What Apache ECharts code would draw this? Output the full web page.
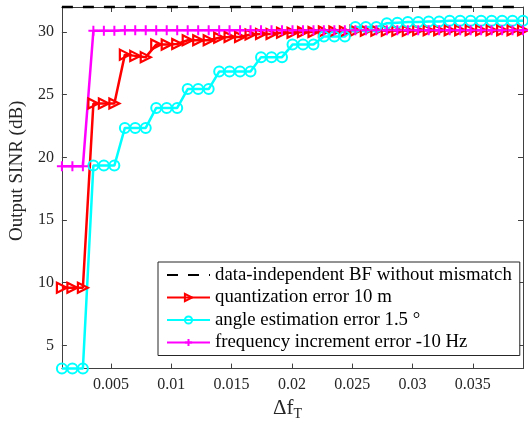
<!DOCTYPE html>
<html>
<head>
<meta charset="utf-8">
<script src="https://cdn.jsdelivr.net/npm/echarts@6/dist/echarts.min.js"></script>
<style>html,body{margin:0;padding:0;background:#fff;}#c{width:528px;height:426px;}</style>
</head>
<body>
<div id="c"></div>
<script>
// Δf_T sample points
const xValues = [0.00093, 0.00180, 0.00267, 0.00354, 0.00441, 0.00528, 0.00615, 0.00701, 0.00788, 0.00875,
  0.00962, 0.01049, 0.01136, 0.01223, 0.01310, 0.01397, 0.01483, 0.01570, 0.01657, 0.01744,
  0.01831, 0.01918, 0.02005, 0.02092, 0.02179, 0.02265, 0.02352, 0.02439, 0.02526, 0.02613,
  0.02700, 0.02787, 0.02874, 0.02961, 0.03047, 0.03134, 0.03221, 0.03308, 0.03395, 0.03482,
  0.03569, 0.03656, 0.03743, 0.03829, 0.03916];
const refSINR = [32, 32, 32, 32, 32, 32, 32, 32, 32, 32, 32, 32, 32, 32, 32, 32, 32, 32, 32, 32,
  32, 32, 32, 32, 32, 32, 32, 32, 32, 32, 32, 32, 32, 32, 32, 32, 32, 32, 32, 32, 32, 32, 32, 32, 32];
const quantSINR = [9.6, 9.6, 9.6, 24.3, 24.3, 24.3, 28.2, 28.1, 28.0, 29.0,
  29.0, 29.05, 29.35, 29.35, 29.35, 29.55, 29.6, 29.6, 29.8, 29.85,
  29.85, 29.95, 29.95, 30.0, 30.0, 30.05, 30.05, 30.05, 30.1, 30.1,
  30.1, 30.1, 30.1, 30.1, 30.15, 30.15, 30.15, 30.15, 30.15, 30.15,
  30.15, 30.15, 30.15, 30.15, 30.15];
const angleSINR = [3.15, 3.15, 3.15, 19.35, 19.35, 19.35, 22.35, 22.35, 22.35, 23.95,
  23.95, 23.95, 25.45, 25.45, 25.45, 26.85, 26.85, 26.85, 26.85, 28.0,
  28.0, 28.0, 29.0, 29.0, 29.0, 29.65, 29.65, 29.65, 30.4, 30.4,
  30.4, 30.7, 30.75, 30.8, 30.8, 30.85, 30.85, 30.9, 30.9, 30.9,
  30.9, 30.9, 30.9, 30.9, 30.9];
const freqSINR = [19.3, 19.3, 19.3, 30.1, 30.1, 30.1, 30.15, 30.15, 30.15, 30.15,
  30.15, 30.15, 30.15, 30.15, 30.15, 30.15, 30.15, 30.15, 30.15, 30.15,
  30.15, 30.15, 30.15, 30.15, 30.15, 30.15, 30.15, 30.15, 30.15, 30.15,
  30.15, 30.15, 30.15, 30.15, 30.15, 30.15, 30.15, 30.15, 30.15, 30.15,
  30.15, 30.15, 30.15, 30.15, 30.15];
const seriesNames = ['data-independent BF without mismatch', 'quantization error 10 m',
  'angle estimation error 1.5 °', 'frequency increment error -10 Hz'];
const xTicks = [0.005, 0.01, 0.015, 0.02, 0.025, 0.03, 0.035];
const yTicks = [5, 10, 15, 20, 25, 30];
const yMin = 3.15, yMax = 32;

const FONT = 'Liberation Serif';
const AX = '#404040';
const pairs = arr => xValues.map((x, i) => [x, arr[i]]);
const xMin = xValues[0], xMax = xValues[xValues.length - 1];

const chart = echarts.init(document.getElementById('c'), null, {renderer: 'canvas'});
const baseX = {
  type: 'value', min: xMin, max: xMax,
  axisLine: {show: true, onZero: false, lineStyle: {color: AX, width: 1}},
  axisTick: {show: true, inside: true, length: 5, lineStyle: {color: AX}, customValues: xTicks},
  splitLine: {show: false}
};
const baseY = {
  type: 'value', min: yMin, max: yMax,
  axisLine: {show: true, onZero: false, lineStyle: {color: AX, width: 1}},
  axisTick: {show: true, inside: true, length: 5, lineStyle: {color: AX}, customValues: yTicks},
  splitLine: {show: false}
};
chart.setOption({
  backgroundColor: '#fff',
  animation: false,
  grid: {left: 55, right: 5, top: 7, bottom: 57, containLabel: false},
  xAxis: [
    Object.assign({}, baseX, {
      position: 'bottom',
      axisLabel: {show: true, customValues: xTicks, margin: 8, fontFamily: FONT, fontSize: 16, color: '#262626',
        formatter: v => String(+(+v).toFixed(3))},
      name: '{a|Δf}{b|T}', nameLocation: 'middle', nameGap: 26,
      nameTextStyle: {color: '#262626', padding: [0, 10, 0, 0], rich: {
        a: {fontFamily: FONT, fontSize: 21, color: '#262626'},
        b: {fontFamily: FONT, fontSize: 14, color: '#262626', padding: [12, 0, 0, 0]}
      }}
    }),
    Object.assign({}, baseX, {position: 'top', axisLabel: {show: false}})
  ],
  yAxis: [
    Object.assign({}, baseY, {
      position: 'left',
      axisLabel: {show: true, customValues: yTicks, margin: 8, fontFamily: FONT, fontSize: 16, color: '#262626'},
      name: 'Output SINR (dB)', nameLocation: 'middle', nameGap: 30,
      nameTextStyle: {fontFamily: FONT, fontSize: 19, color: '#262626', padding: [0, 0, 0, 34]}
    }),
    Object.assign({}, baseY, {position: 'right', axisLabel: {show: false}})
  ],
  legend: {
    orient: 'vertical', left: 158, top: 262,
    padding: [2, 8, 2, 8],
    itemGap: 0.5,
    itemWidth: 43, itemHeight: 9,
    borderColor: '#262626', borderWidth: 1, backgroundColor: '#fff',
    textStyle: {fontFamily: FONT, fontSize: 18.8, color: '#000', lineHeight: 22},
    data: [
      {name: seriesNames[0], itemStyle: {opacity: 0}},
      seriesNames[1], seriesNames[2], seriesNames[3]
    ]
  },
  series: [
    {name: seriesNames[0], type: 'line', data: pairs(refSINR), symbol: 'none', clip: false,
      lineStyle: {color: '#000', width: 2.5, type: [11, 10]}, itemStyle: {color: '#000'}},
    {name: seriesNames[1], type: 'line', data: pairs(quantSINR), clip: false,
      symbol: 'path://M0,0L10,5L0,10Z', symbolSize: 10,
      lineStyle: {color: '#ff0000', width: 2.5},
      itemStyle: {color: 'rgba(255,255,255,0)', borderColor: '#ff0000', borderWidth: 2.2}},
    {name: seriesNames[2], type: 'line', data: pairs(angleSINR), clip: false,
      symbol: 'circle', symbolSize: 10,
      lineStyle: {color: '#00ffff', width: 2.5},
      itemStyle: {color: 'rgba(255,255,255,0)', borderColor: '#00ffff', borderWidth: 2}},
    {name: seriesNames[3], type: 'line', data: pairs(freqSINR), clip: false,
      symbol: 'path://M5,0L5,10M0,5L10,5', symbolSize: 10,
      lineStyle: {color: '#ff00ff', width: 2.5},
      itemStyle: {color: 'rgba(255,255,255,0)', borderColor: '#ff00ff', borderWidth: 2}}
  ]
});
</script>
</body>
</html>
